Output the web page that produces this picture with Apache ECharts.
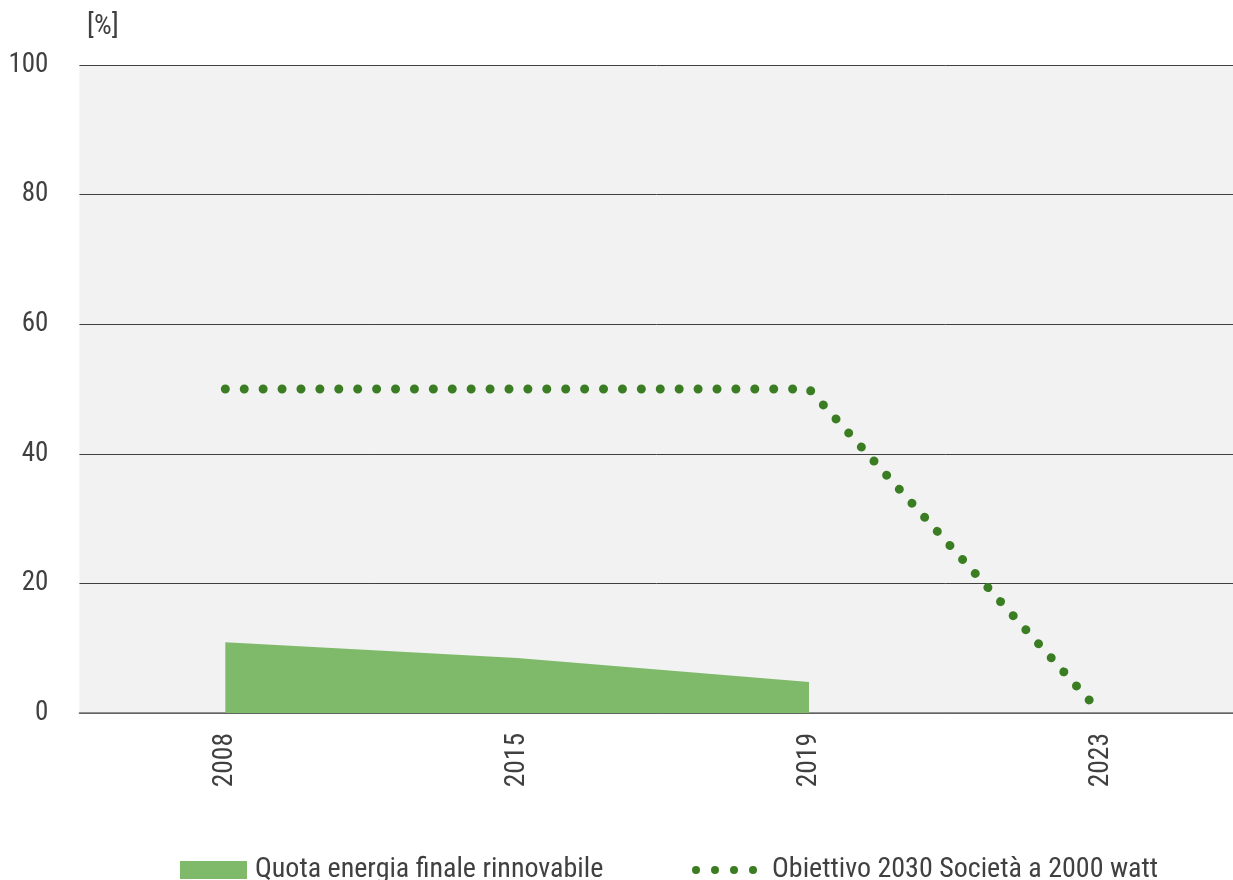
<!DOCTYPE html>
<html>
<head>
<meta charset="utf-8">
<script src="https://cdn.jsdelivr.net/npm/echarts@6/dist/echarts.min.js"></script>
<style>
html,body{margin:0;padding:0;background:#fff;}
#chart{width:1233px;height:880px;}
</style>
</head>
<body>
<div id="chart"></div>
<script>
const categories = ['2008', '2015', '2019', '2023'];
const quotaRinnovabile = [10.9, 8.5, 4.8, null];
const obiettivo2030 = [50, 50, 50, 0];
const yTicks = [0, 20, 40, 60, 80, 100];
const seriesNames = ['Quota energia finale rinnovabile', 'Obiettivo 2030 Società a 2000 watt'];
const unitLabel = '[%]';

const FONT = '"Liberation Sans Narrow", "Roboto Condensed", "Roboto", sans-serif';
const GREEN_LIGHT = '#7fba6b';
const GREEN_DARK = '#3a7d22';
// four dots icon (box 67x18, dots r=4)
const dotsIcon = 'path://M0 0M67 18' +
  [4, 23, 42, 61].map(c => `M${c - 4} 9a4 4 0 1 0 8 0a4 4 0 1 0 -8 0Z`).join('');

const legendBase = {
  top: 856, padding: 0, itemWidth: 67, itemHeight: 18,
  textStyle: {fontFamily: FONT, fontSize: 28, color: '#404040'}
};

const chart = echarts.init(document.getElementById('chart'), null, {renderer: 'canvas'});
chart.setOption({
  animation: false,
  backgroundColor: '#ffffff',
  textStyle: {fontFamily: FONT},
  title: {
    text: unitLabel, left: 87, top: 13, padding: 0,
    textStyle: {fontFamily: FONT, fontSize: 28, fontWeight: 'normal', color: '#404040'}
  },
  grid: {
    left: 79.4, width: 1167.4, top: 65, bottom: 167,
    outerBoundsMode: 'none',
    show: true, backgroundColor: '#f2f2f2', borderWidth: 0
  },
  legend: [
    Object.assign({}, legendBase, {
      left: 180,
      data: [{name: seriesNames[0], icon: 'rect',
        itemStyle: {color: GREEN_LIGHT},
        textStyle: {fontFamily: FONT, fontSize: 28, color: '#404040', padding: [0, 0, 0, 3]}}]
    }),
    Object.assign({}, legendBase, {
      left: 692,
      data: [{name: seriesNames[1], icon: dotsIcon,
        itemStyle: {color: GREEN_DARK, borderWidth: 0},
        lineStyle: {width: 0},
        textStyle: {fontFamily: FONT, fontSize: 28, color: '#404040', padding: [0, 0, 0, 8]}}]
    })
  ],
  xAxis: {
    type: 'category',
    data: categories,
    boundaryGap: true,
    axisLine: {lineStyle: {color: '#707070', width: 1.5}},
    axisTick: {show: false},
    axisLabel: {rotate: 90, margin: 20, fontFamily: FONT, fontSize: 27.5, color: '#404040'},
    splitLine: {show: false}
  },
  yAxis: {
    type: 'value',
    min: yTicks[0], max: yTicks[yTicks.length - 1], interval: 20,
    axisLine: {show: false},
    axisTick: {show: false},
    axisLabel: {margin: 31, fontFamily: FONT, fontSize: 27, color: '#404040',
      formatter: v => yTicks.indexOf(v) >= 0 ? String(v) : ''},
    splitLine: {lineStyle: {color: '#404040', width: 1}}
  },
  series: [
    {
      name: seriesNames[0],
      type: 'line',
      data: quotaRinnovabile,
      symbol: 'none',
      lineStyle: {width: 0, color: GREEN_LIGHT},
      itemStyle: {color: GREEN_LIGHT},
      areaStyle: {color: GREEN_LIGHT, opacity: 1},
      z: 2
    },
    {
      name: seriesNames[1],
      type: 'line',
      data: obiettivo2030,
      symbol: 'none',
      itemStyle: {color: GREEN_DARK},
      lineStyle: {color: GREEN_DARK, width: 9, type: [0.01, 18.9], cap: 'round', join: 'round'},
      z: 3
    }
  ]
});
</script>
</body>
</html>
